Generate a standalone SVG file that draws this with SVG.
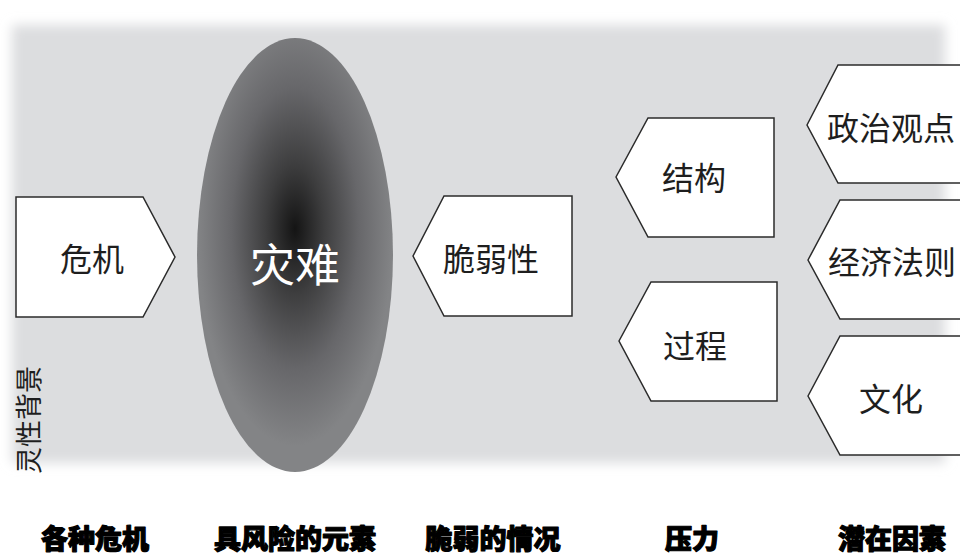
<svg xmlns="http://www.w3.org/2000/svg" width="960" height="556" viewBox="0 0 960 556">
<defs>
<filter id="soft" x="-5%" y="-10%" width="110%" height="120%"><feGaussianBlur stdDeviation="6"/></filter>
<radialGradient id="core" cx="0.5" cy="0.44" r="0.5">
<stop offset="0" stop-color="#141414"/>
<stop offset="0.3" stop-color="#3e3e3f"/>
<stop offset="0.65" stop-color="#67676a"/>
<stop offset="1" stop-color="#838486"/>
</radialGradient>
<style>
.box{fill:#ffffff;stroke:#2b2b2b;stroke-width:1.5}
.lbl{font-family:"Noto Sans CJK SC","Noto Sans",sans-serif;font-size:32px;fill:#1e1e1e;text-anchor:middle;dominant-baseline:central}
.cap{font-family:"Noto Sans CJK SC","Noto Sans",sans-serif;font-size:27px;font-weight:900;fill:#000;stroke:#000;stroke-width:1.2;stroke-linejoin:round;text-anchor:middle}
</style>
</defs>
<rect width="960" height="556" fill="#ffffff"/>
<rect id="background" x="12" y="25" width="933" height="438" fill="#dcdddf" filter="url(#soft)"/>
<g id="connectors"></g>
<g id="n-crisis"><polygon class="box" points="16,197 143,197 175,257 143,317 16,317"/><text class="lbl" x="92" y="257">危机</text></g>
<g id="n-disaster"><ellipse cx="295" cy="255" rx="98" ry="217" fill="url(#core)"/><text class="lbl" x="295" y="262" style="font-size:45px;fill:#ffffff">灾难</text></g>
<g id="n-vuln"><polygon class="box" points="413,256 444,196 572,196 572,316 444,316"/><text class="lbl" x="491" y="257">脆弱性</text></g>
<g id="n-structure"><polygon class="box" points="616,177 648,118 774,118 774,237 648,237"/><text class="lbl" x="694" y="176">结构</text></g>
<g id="n-process"><polygon class="box" points="619,341 651,282 777,282 777,401 651,401"/><text class="lbl" x="695" y="344">过程</text></g>
<g id="n-politics"><polygon class="box" points="807,125 838,65 966,65 966,183 838,183"/><text class="lbl" x="891" y="126">政治观点</text></g>
<g id="n-economy"><polygon class="box" points="808,260 840,200 966,200 966,319 840,319"/><text class="lbl" x="892" y="260">经济法则</text></g>
<g id="n-culture"><polygon class="box" points="808,396 840,336 966,336 966,455 840,455"/><text class="lbl" x="891" y="397">文化</text></g>
<g id="side-label"><text class="lbl" transform="translate(27,420) rotate(-90)" style="font-size:27px" x="0" y="0">灵性背景</text></g>
<g id="captions">
<text class="cap" x="95" y="549">各种危机</text>
<text class="cap" x="295" y="549">具风险的元素</text>
<text class="cap" x="493" y="549">脆弱的情况</text>
<text class="cap" x="692" y="549">压力</text>
<text class="cap" x="892" y="549">潜在因素</text>
</g>
</svg>
